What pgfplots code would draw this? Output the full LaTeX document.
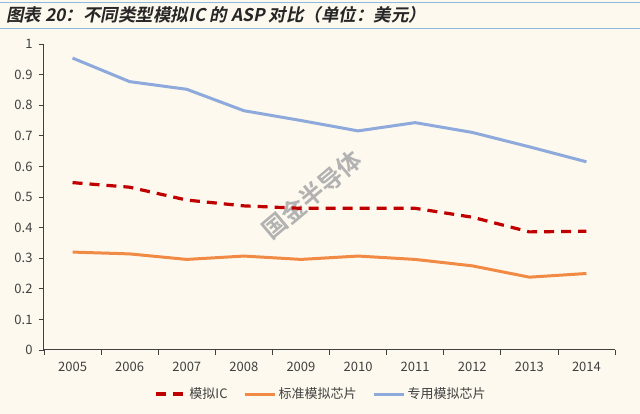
\documentclass[border=0pt]{standalone}
\usepackage{fontspec}
\setmainfont{Noto Sans CJK SC}
\newfontfamily\titlefont{Noto Sans CJK SC Bold}[FakeSlant=0.2]
\newfontfamily\wmfont{Noto Sans CJK SC Bold}
\usepackage{pgfplots}
\pgfplotsset{compat=1.18}
\definecolor{bg}{HTML}{FDF9EE}
\definecolor{cred}{HTML}{C00000}
\definecolor{corange}{HTML}{F08A45}
\definecolor{cblue}{HTML}{8EA9DB}
\definecolor{rule}{HTML}{8DB8E0}
\definecolor{txt}{HTML}{404040}
\begin{document}
\begin{tikzpicture}[x=1pt,y=1pt]
\fill[bg] (0,0) rectangle (640,414);
\useasboundingbox (0,0) rectangle (640,414);
\draw[rule,line width=1.5pt] (0,411.3) -- (640,411.3);
\draw[rule,line width=1.5pt] (0,385.3) -- (640,385.3);
\node[anchor=west,inner sep=0pt,text=black!85] at (6,399) {\titlefont\fontsize{17.5}{19}\selectfont 图表 20：不同类型模拟IC 的 ASP 对比（单位：美元）};
\node[rotate=40,text=black!30,inner sep=0pt] at (312,219) {\wmfont\fontsize{24}{26}\selectfont 国金半导体};
\begin{axis}[
  at={(44pt,64pt)}, anchor=south west,
  width=571pt, height=306pt, scale only axis,
  xmin=-0.5, xmax=9.5, ymin=0, ymax=1,
  xtick={-0.5,0.5,1.5,2.5,3.5,4.5,5.5,6.5,7.5,8.5,9.5},
  xticklabels={2005,2006,2007,2008,2009,2010,2011,2012,2013,2014},
  x tick label as interval,
  ytick={0,0.1,0.2,0.3,0.4,0.5,0.6,0.7,0.8,0.9,1},
  yticklabels={0,0.1,0.2,0.3,0.4,0.5,0.6,0.7,0.8,0.9,1},
  axis x line*=bottom, axis y line*=left,
  axis line style={black!75, line width=1pt, -},
  tick style={black!75, line width=0.8pt},
  tick align=outside, major tick length=5pt,
  xtick pos=bottom, ytick pos=left,
  ticklabel style={font=\fontsize{13}{15}\selectfont, text=txt},
  /pgf/number format/assume math mode=true,
  yticklabel style={xshift=-3pt},
  xticklabel style={yshift=-4pt},
  legend style={at={(0.485,-0.144)}, anchor=center, draw=none, fill=none,
    font=\fontsize{13}{15}\selectfont, text=txt, legend columns=3,
    /tikz/every even column/.append style={column sep=14pt}},
  legend image code/.code={\draw[#1] (0pt,0pt) -- (30pt,0pt);},
  legend cell align=left,
  clip=false,
]
\addplot[cred, line width=3.2pt, dash pattern=on 10pt off 7pt] coordinates {
(0,0.547) (1,0.532) (2,0.490) (3,0.471) (4,0.463) (5,0.463) (6,0.463) (7,0.434) (8,0.386) (9,0.388)};
\addlegendentry{模拟IC}
\addplot[corange, line width=3pt] coordinates {
(0,0.320) (1,0.314) (2,0.296) (3,0.307) (4,0.296) (5,0.307) (6,0.296) (7,0.275) (8,0.238) (9,0.250)};
\addlegendentry{标准模拟芯片}
\addplot[cblue, line width=3pt] coordinates {
(0,0.954) (1,0.877) (2,0.852) (3,0.782) (4,0.750) (5,0.716) (6,0.743) (7,0.711) (8,0.664) (9,0.615)};
\addlegendentry{专用模拟芯片}
\end{axis}
\end{tikzpicture}
\end{document}
